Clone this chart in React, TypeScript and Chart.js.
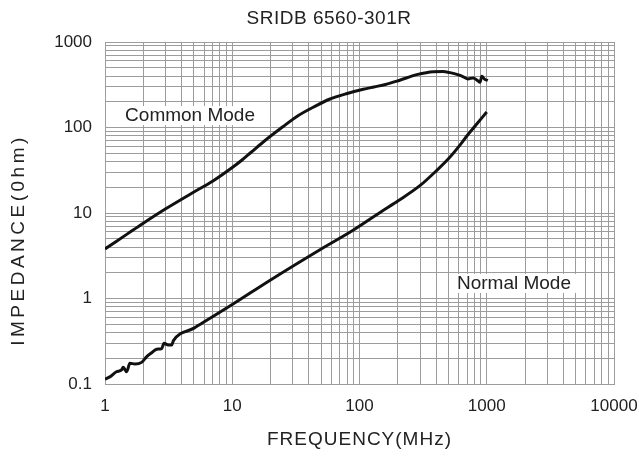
import React, { useEffect, useRef } from "react";
import { Chart, registerables } from "chart.js";

Chart.register(...registerables);

const titleText = "SRIDB 6560-301R";
const xAxisTitle = "FREQUENCY(MHz)";
const yAxisTitle = "IMPEDANCE(0hm)";
const commonLabel = "Common Mode";
const normalLabel = "Normal Mode";

const xTickLabels = ["1", "10", "100", "1000", "10000"];
const yTickLabels = ["0.1", "1", "10", "100", "1000"];
const xDecades = [1, 10, 100, 1000, 10000];
const yDecades = [0.1, 1, 10, 100, 1000];

const cmFreq = [1, 1.5, 2, 3, 5, 7, 10, 12, 14, 18, 25, 32, 45, 58, 80, 107, 130, 160, 207, 282, 380, 450, 515, 600, 655, 712, 780, 850, 885, 915, 960, 1020];
const cmImp = [3.8, 5.7, 7.6, 11.2, 17.6, 23.5, 34, 42, 51, 70, 102, 134, 178, 214, 250, 280, 298, 318, 357, 415, 450, 452, 438, 412, 392, 370, 380, 352, 338, 398, 368, 355];

const nmFreq = [1, 1.1, 1.23, 1.35, 1.39, 1.48, 1.57, 1.72, 1.94, 2.13, 2.33, 2.55, 2.79, 2.91, 3.14, 3.34, 3.45, 5, 10, 20, 50, 89, 150, 200, 300, 400, 500, 620, 700, 810, 1000];
const nmImp = [0.114, 0.122, 0.139, 0.146, 0.157, 0.139, 0.175, 0.171, 0.179, 0.209, 0.232, 0.255, 0.26, 0.299, 0.286, 0.286, 0.321, 0.45, 0.85, 1.65, 3.8, 6.3, 10.5, 13.8, 21, 31, 43, 63, 80, 104, 152];

// label anchor positions in data units (frequency, impedance)
const commonLabelAt = [4.66, 136];
const normalLabelAt = [1637, 1.48];

const minorSteps = [1, 2, 3, 4, 5, 6, 7, 8, 9];

function gridValues(decades: number[]) {
  const out: number[] = [];
  for (let i = 0; i < decades.length - 1; i++) {
    for (const m of minorSteps) out.push(decades[i] * m);
  }
  out.push(decades[decades.length - 1]);
  return out;
}

function labelFor(value: number, decades: number[], labels: string[]) {
  for (let i = 0; i < decades.length; i++) {
    if (Math.abs(value - decades[i]) < decades[i] * 1e-6) return labels[i];
  }
  return "";
}

const FONT = "'Liberation Sans', Arial, sans-serif";
const TEXT = "#222";
const GRID = "#9c9c9c";

const textPlugin = {
  id: "textPlugin",
  afterDatasetsDraw(chart: any) {
    const ctx = chart.ctx as CanvasRenderingContext2D;
    const xs = chart.scales.x;
    const ys = chart.scales.y;
    ctx.save();
    ctx.fillStyle = TEXT;
    ctx.textBaseline = "middle";
    ctx.textAlign = "center";

    const box = (text: string, at: number[]) => {
      const cx = xs.getPixelForValue(at[0]);
      const cy = ys.getPixelForValue(at[1]);
      ctx.font = `19px ${FONT}`;
      const w = ctx.measureText(text).width;
      ctx.fillStyle = "#fff";
      ctx.fillRect(cx - w / 2 - 5, cy - 10, w + 10, 19);
      ctx.fillStyle = TEXT;
      ctx.fillText(text, cx, cy);
    };
    box(commonLabel, commonLabelAt);
    box(normalLabel, normalLabelAt);

    ctx.font = `19px ${FONT}`;
    (ctx as any).letterSpacing = "0.5px";
    ctx.fillText(titleText, 329, 19);

    ctx.font = `19px ${FONT}`;
    (ctx as any).letterSpacing = "1px";
    ctx.fillText(xAxisTitle, (chart.chartArea.left + chart.chartArea.right) / 2, 440);

    ctx.translate(19, 240);
    ctx.rotate(-Math.PI / 2);
    ctx.font = `19px ${FONT}`;
    (ctx as any).letterSpacing = "3.5px";
    ctx.fillText(yAxisTitle, 0, 0);
    ctx.restore();
  },
};

export default function App() {
  const ref = useRef<HTMLCanvasElement | null>(null);

  useEffect(() => {
    if (!ref.current) return;
    const chart = new Chart(ref.current, {
      type: "line",
      data: {
        datasets: [
          {
            label: commonLabel,
            data: cmFreq.map((f, i) => ({ x: f, y: cmImp[i] })),
            borderColor: "#111",
            borderWidth: 3,
            pointRadius: 0,
            cubicInterpolationMode: "monotone",
            fill: false,
          },
          {
            label: normalLabel,
            data: nmFreq.map((f, i) => ({ x: f, y: nmImp[i] })),
            borderColor: "#111",
            borderWidth: 3,
            pointRadius: 0,
            cubicInterpolationMode: "monotone",
            fill: false,
          },
        ],
      },
      options: {
        animation: false,
        responsive: false,
        layout: { padding: { top: 42, right: 25, left: 0, bottom: 0 } },
        plugins: {
          legend: { display: false },
          title: { display: false },
          tooltip: { enabled: false },
        },
        scales: {
          x: {
            type: "logarithmic",
            min: 1,
            max: 10000,
            afterBuildTicks: (scale: any) => {
              scale.ticks = gridValues(xDecades).map((v) => ({ value: v }));
            },
            afterFit: (scale: any) => {
              scale.height = 72;
              scale.paddingLeft = 0;
              scale.paddingRight = 0;
            },
            grid: { color: GRID, lineWidth: 1, drawTicks: false },
            border: { color: GRID, width: 1 },
            ticks: {
              autoSkip: false,
              maxRotation: 0,
              padding: 12,
              color: TEXT,
              font: { family: FONT, size: 17 },
              callback: (v: any) => labelFor(Number(v), xDecades, xTickLabels),
            },
          },
          y: {
            type: "logarithmic",
            min: 0.1,
            max: 1000,
            afterBuildTicks: (scale: any) => {
              scale.ticks = gridValues(yDecades).map((v) => ({ value: v }));
            },
            afterFit: (scale: any) => {
              scale.width = 105;
              scale.paddingTop = 0;
              scale.paddingBottom = 0;
            },
            grid: { color: GRID, lineWidth: 1, drawTicks: false },
            border: { color: GRID, width: 1 },
            ticks: {
              autoSkip: false,
              padding: 13,
              color: TEXT,
              font: { family: FONT, size: 17 },
              callback: (v: any) => labelFor(Number(v), yDecades, yTickLabels),
            },
          },
        },
      },
      plugins: [textPlugin],
    } as any);
    return () => chart.destroy();
  }, []);

  return (
    <div style={{ position: "fixed", left: 0, top: 0, width: 639, height: 456, background: "#fff" }}>
      <canvas ref={ref} width={639} height={456} style={{ width: 639, height: 456, display: "block" }} />
    </div>
  );
}
